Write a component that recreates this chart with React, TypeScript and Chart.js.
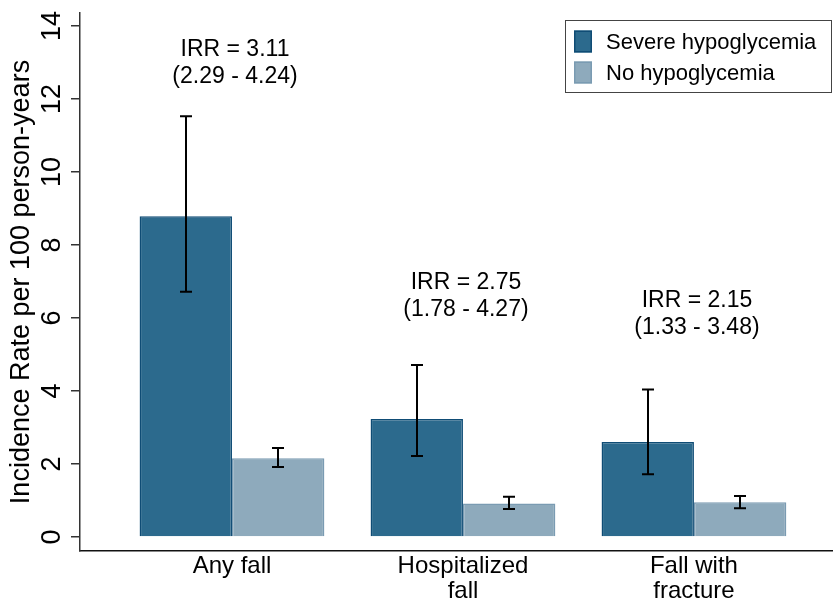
import React, { useEffect, useRef } from 'react';
import { Chart, registerables } from 'chart.js';

Chart.register(...registerables);

// ---- data ----
const categories: string[][] = [["Any fall"], ["Hospitalized", "fall"], ["Fall with", "fracture"]];
const seriesNames = ["Severe hypoglycemia", "No hypoglycemia"];
const severeRates = [8.79, 3.23, 2.6];
const severeLower = [6.72, 2.22, 1.72];
const severeUpper = [11.53, 4.71, 4.04];
const noneRates = [2.16, 0.92, 0.95];
const noneLower = [1.92, 0.77, 0.79];
const noneUpper = [2.44, 1.1, 1.12];
const irrLabels = ["IRR = 3.11", "IRR = 2.75", "IRR = 2.15"];
const ciLabels = ["(2.29 - 4.24)", "(1.78 - 4.27)", "(1.33 - 3.48)"];
const irrLabelValues = [13.35, 6.96, 6.48];
const yTicks = [0, 2, 4, 6, 8, 10, 12, 14];
const yTitle = "Incidence Rate per 100 person-years";

const FONT = "'Liberation Sans', Arial, Helvetica, sans-serif";
const severeFill = '#2c6a8d';
const severeBorder = '#0f4c75';
const noneFill = '#8eaabc';
const noneBorder = '#7a9bb2';

const lowers = [severeLower, noneLower];
const uppers = [severeUpper, noneUpper];

const decorPlugin = {
  id: 'decor',
  afterDatasetsDraw(chart: any) {
    const ctx = chart.ctx;
    const ys = chart.scales.y;
    ctx.save();
    ctx.strokeStyle = '#000';
    ctx.lineWidth = 2;
    chart.data.datasets.forEach((ds: any, di: number) => {
      const meta = chart.getDatasetMeta(di);
      meta.data.forEach((bar: any, i: number) => {
        const x = Math.round(bar.x);
        const yl = ys.getPixelForValue(lowers[di][i]);
        const yu = ys.getPixelForValue(uppers[di][i]);
        ctx.beginPath();
        ctx.moveTo(x, yl);
        ctx.lineTo(x, yu);
        ctx.moveTo(x - 6, yl);
        ctx.lineTo(x + 6, yl);
        ctx.moveTo(x - 6, yu);
        ctx.lineTo(x + 6, yu);
        ctx.stroke();
      });
    });
    ctx.restore();
  },
  afterDraw(chart: any) {
    const ctx = chart.ctx;
    const ys = chart.scales.y;
    const xs = chart.scales.x;
    const area = chart.chartArea;
    ctx.save();
    ctx.fillStyle = '#000';
    ctx.font = `27px ${FONT}`;
    ctx.textAlign = 'center';
    ctx.textBaseline = 'middle';
    yTicks.forEach((v) => {
      const y = ys.getPixelForValue(v);
      ctx.save();
      ctx.translate(53, y);
      ctx.rotate(-Math.PI / 2);
      ctx.fillText(String(v), 0, 0);
      ctx.restore();
    });
    ctx.font = `27px ${FONT}`;
    ctx.save();
    ctx.translate(22, (area.top + area.bottom) / 2);
    ctx.rotate(-Math.PI / 2);
    ctx.fillText(yTitle, 0, 0);
    ctx.restore();
    ctx.font = `23px ${FONT}`;
    irrLabels.forEach((lab, i) => {
      const x = xs.getPixelForValue(i) + 3;
      const y = ys.getPixelForValue(irrLabelValues[i]);
      ctx.fillText(lab, x, y);
      ctx.fillText(ciLabels[i], x, y + 27);
    });
    const lx = 565.5, ly = 20.5, lw = 266, lh = 72;
    ctx.fillStyle = '#fff';
    ctx.fillRect(lx, ly, lw, lh);
    ctx.strokeStyle = '#444';
    ctx.lineWidth = 1;
    ctx.strokeRect(lx, ly, lw, lh);
    ctx.font = `22px ${FONT}`;
    ctx.textAlign = 'left';
    chart.data.datasets.forEach((ds: any, di: number) => {
      const cy = 41.5 + di * 31;
      ctx.fillStyle = ds.backgroundColor;
      ctx.fillRect(574, cy - 11, 18, 22);
      ctx.strokeStyle = ds.borderColor;
      ctx.lineWidth = 1.5;
      ctx.strokeRect(574.75, cy - 10.25, 16.5, 20.5);
      ctx.fillStyle = '#000';
      ctx.fillText(ds.label, 606, cy + 1);
    });
    ctx.restore();
  },
};

export default function App() {
  const ref = useRef<HTMLCanvasElement | null>(null);
  useEffect(() => {
    if (!ref.current) return;
    const chart = new Chart(ref.current, {
      type: 'bar',
      data: {
        datasets: [
          {
            label: seriesNames[0],
            data: severeRates.map((v, i) => ({ x: i, y: v })),
            backgroundColor: severeFill,
            borderColor: severeBorder,
            borderWidth: 1.5,
          },
          {
            label: seriesNames[1],
            data: noneRates.map((v, i) => ({ x: i, y: v })),
            backgroundColor: noneFill,
            borderColor: noneBorder,
            borderWidth: 1.5,
          },
        ],
      },
      options: {
        animation: false,
        responsive: false,
        devicePixelRatio: 1,
        layout: { padding: { top: 13, right: 0, left: 0, bottom: 0 } },
        datasets: { bar: { categoryPercentage: 0.8, barPercentage: 1.0 } },
        plugins: { legend: { display: false }, tooltip: { enabled: false } },
        scales: {
          x: {
            type: 'linear',
            offset: false,
            min: -0.658,
            max: 2.602,
            afterBuildTicks: (s: any) => {
              s.ticks = categories.map((_, i) => ({ value: i }));
            },
            afterFit: (s: any) => {
              s.height = 52;
            },
            grid: { display: false, drawTicks: false, offset: false },
            border: { display: true, color: '#111', width: 1.5 },
            ticks: {
              callback: (_v: any, i: number) => categories[i],
              font: { family: FONT, size: 24, lineHeight: 1.04 },
              color: '#000',
              padding: 3,
              maxRotation: 0,
              minRotation: 0,
              autoSkip: false,
            },
          },
          y: {
            min: -0.384,
            max: 14.356,
            afterBuildTicks: (s: any) => {
              s.ticks = yTicks.map((v) => ({ value: v }));
            },
            afterFit: (s: any) => {
              s.width = 80;
            },
            grid: { drawOnChartArea: false, drawTicks: true, tickLength: 9, color: '#333', lineWidth: 1.5 },
            border: { display: true, color: '#333', width: 1.5 },
            ticks: { display: false },
          },
        },
      },
      plugins: [decorPlugin],
    } as any);
    return () => chart.destroy();
  }, []);
  return (
    <div style={{ position: 'absolute', left: 0, top: 0, width: 833, height: 603, background: '#fff' }}>
      <canvas ref={ref} width={833} height={603} style={{ display: 'block', width: 833, height: 603 }} />
    </div>
  );
}
